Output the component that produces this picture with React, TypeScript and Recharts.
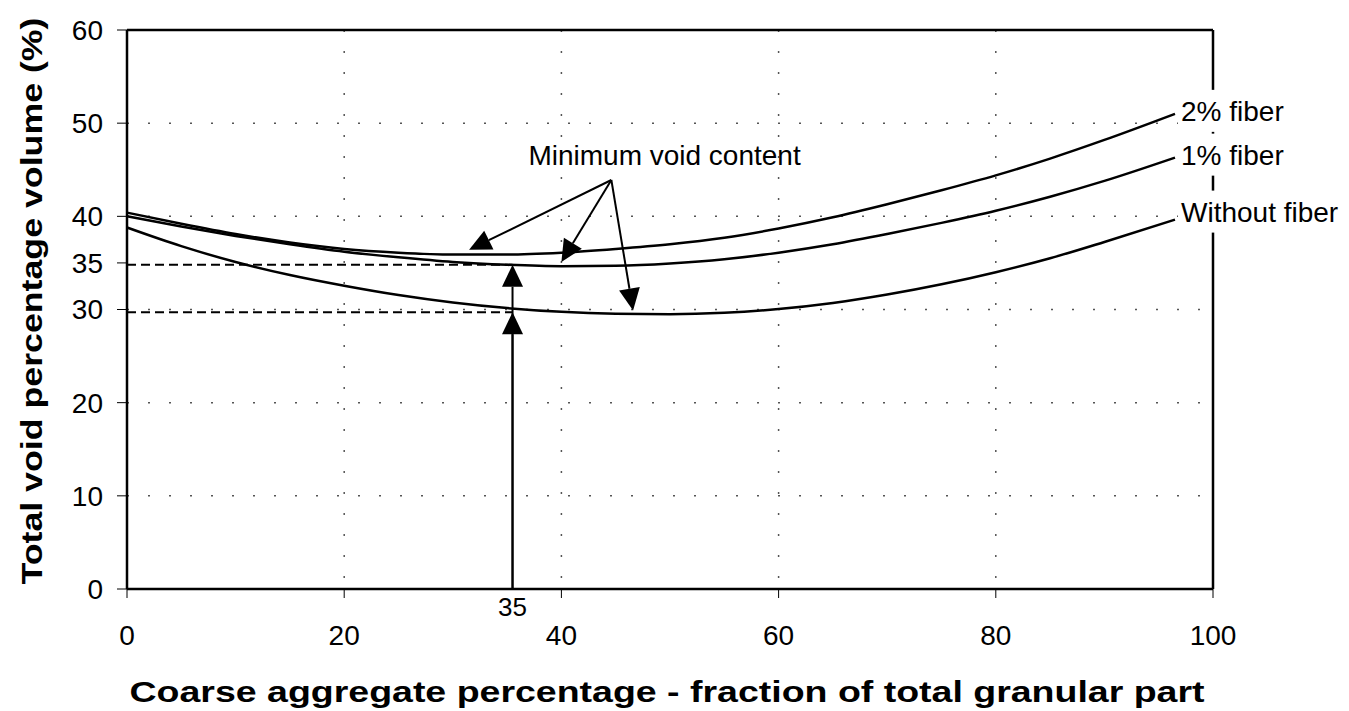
import React from 'react';
import { LineChart, Line, XAxis, YAxis, CartesianGrid, ReferenceLine, ReferenceDot } from 'recharts';

// coarse aggregate % (x) and total void % for each mix
const coarsePct = [0, 5, 10, 15, 20, 25, 30, 35, 40, 45, 50, 55, 60, 65, 70, 75, 80, 85, 90, 96.5];
const fiber2 = [40.4, 39.2, 38.1, 37.2, 36.5, 36.1, 35.9, 35.9, 36.1, 36.5, 37.0, 37.7, 38.7, 39.9, 41.3, 42.8, 44.4, 46.2, 48.2, 51.0];
const fiber1 = [40.0, 38.9, 37.9, 37.0, 36.2, 35.6, 35.1, 34.8, 34.65, 34.7, 34.95, 35.4, 36.1, 37.0, 38.1, 39.3, 40.6, 42.1, 43.8, 46.3];
const noFiber = [38.8, 36.8, 35.1, 33.7, 32.55, 31.55, 30.75, 30.15, 29.75, 29.55, 29.5, 29.65, 30.05, 30.7, 31.6, 32.7, 34.0, 35.5, 37.25, 39.65];
const seriesNames = ['2% fiber', '1% fiber', 'Without fiber'];

const xTicks = [0, 20, 40, 60, 80, 100];
const yTicks = [0, 10, 20, 30, 35, 40, 50, 60];
const gridX = [20, 40, 60, 80];
const gridY = [10, 20, 30, 40, 50];

// annotation: optimum coarse fraction and the two minimum levels
const optimumX = 35.5;
const optimumLabel = '35';
const minLevels = [34.8, 29.7];
const noteText = 'Minimum void content';
const noteAt = { x: 49.5, y: 46.6 };
const noteOrigin = { x: 44.6, y: 43.9 };
const noteTips = [
  { x: 31.5, y: 36.4 },
  { x: 40.0, y: 35.1 },
  { x: 46.6, y: 29.9 },
];

const FONT = '"Liberation Sans", Arial, Helvetica, sans-serif';

const rows = coarsePct.map((x, i) => ({ x, f2: fiber2[i], f1: fiber1[i], f0: noFiber[i] }));

const arrowShape = (p: any) => {
  const { x1, y1, x2, y2 } = p;
  const a = Math.atan2(y2 - y1, x2 - x1);
  const L = 22;
  const W = 10.5;
  const bx = x2 - L * Math.cos(a);
  const by = y2 - L * Math.sin(a);
  const nx = -Math.sin(a);
  const ny = Math.cos(a);
  const pts = `${x2},${y2} ${bx + W * nx},${by + W * ny} ${bx - W * nx},${by - W * ny}`;
  return (
    <g>
      <line x1={x1} y1={y1} x2={bx} y2={by} stroke="#000" strokeWidth={2} />
      <polygon points={pts} fill="#000" />
    </g>
  );
};

const textLabel = (text: string, size: number, dx: number, dy: number, anchor: string, whiteBg = false) => (p: any) => {
  const vb = p.viewBox || {};
  const cx = (vb.x ?? 0) + (vb.width ?? 0) / 2 + dx;
  const cy = (vb.y ?? 0) + (vb.height ?? 0) / 2 + dy;
  return (
    <g>
      {whiteBg && <rect x={cx - 3} y={cy - 31} width={165} height={42} fill="#fff" />}
      <text x={cx} y={cy} textAnchor={anchor} fontFamily={FONT} fontSize={size} fill="#000">
        {text}
      </text>
    </g>
  );
};

const XTitle = (p: any) => {
  const vb = p.viewBox;
  return (
    <text x={vb.x + vb.width / 2 - 3} y={vb.y + 113} textAnchor="middle" fontFamily={FONT} fontSize={29}
      fontWeight="bold" textLength={1075} lengthAdjust="spacingAndGlyphs" fill="#000">
      Coarse aggregate percentage - fraction of total granular part
    </text>
  );
};

const YTitle = (p: any) => {
  const vb = p.viewBox;
  const x = vb.x - 15;
  const y = vb.y + 271;
  return (
    <text x={x} y={y} transform={`rotate(-90, ${x}, ${y})`} textAnchor="middle" fontFamily={FONT} fontSize={29}
      fontWeight="bold" textLength={567} lengthAdjust="spacingAndGlyphs" fill="#000">
      Total void percentage volume (%)
    </text>
  );
};

const last = coarsePct.length - 1;
const ends = [fiber2[last], fiber1[last], noFiber[last]];

export default function App() {
  return (
    <div style={{ width: 1341, height: 703 }}>
      <LineChart width={1341} height={703} data={rows} margin={{ top: 22, right: 136, bottom: 62, left: 49 }}>
        <CartesianGrid horizontalValues={gridY} verticalValues={gridX} stroke="#555" strokeDasharray="2 19" strokeWidth={1.5} />
        <XAxis dataKey="x" type="number" domain={[0, 100]} ticks={xTicks} interval={0} height={60}
          tickSize={9} tickMargin={27} tick={{ fontSize: 28, fill: '#000', fontFamily: FONT }}
          axisLine={{ stroke: '#000', strokeWidth: 2.5 }} tickLine={{ stroke: '#000' }} label={{ content: XTitle }} />
        <YAxis type="number" domain={[0, 60]} ticks={yTicks} interval={0} width={70}
          tickSize={10} tickMargin={14} tick={{ fontSize: 28, fill: '#000', fontFamily: FONT }}
          axisLine={{ stroke: '#000', strokeWidth: 2.5 }} tickLine={{ stroke: '#000' }} label={{ content: YTitle }} />
        <ReferenceLine y={60} stroke="#000" strokeWidth={2.5} />
        <ReferenceLine x={100} stroke="#000" strokeWidth={2.5} />
        {minLevels.map((v) => (
          <ReferenceLine key={`lvl-${v}`} segment={[{ x: 0, y: v }, { x: optimumX, y: v }]} stroke="#000"
            strokeWidth={2} strokeDasharray="9 5" />
        ))}
        {minLevels.map((v) => (
          <ReferenceLine key={`up-${v}`} segment={[{ x: optimumX, y: 0 }, { x: optimumX, y: v }]} shape={arrowShape} />
        ))}
        {noteTips.map((t, i) => (
          <ReferenceLine key={`note-${i}`} segment={[noteOrigin, t]} shape={arrowShape} />
        ))}
        <Line type="monotone" dataKey="f2" name={seriesNames[0]} stroke="#000" strokeWidth={2.5} dot={false} isAnimationActive={false} />
        <Line type="monotone" dataKey="f1" name={seriesNames[1]} stroke="#000" strokeWidth={2.5} dot={false} isAnimationActive={false} />
        <Line type="monotone" dataKey="f0" name={seriesNames[2]} stroke="#000" strokeWidth={2.5} dot={false} isAnimationActive={false} />
        {seriesNames.map((n, i) => (
          <ReferenceDot key={n} x={coarsePct[last]} y={ends[i]} r={0} fill="none" stroke="none"
            label={{ content: textLabel(n, 28, 6, 7 - (i === 2 ? 5 : 0), 'start', true) }} />
        ))}
        <ReferenceDot x={noteAt.x} y={noteAt.y} r={0} fill="none" stroke="none"
          label={{ content: textLabel(noteText, 28, 0, 10, 'middle') }} />
        <ReferenceDot x={optimumX} y={0} r={0} fill="none" stroke="none"
          label={{ content: textLabel(optimumLabel, 26, 0, 27, 'middle') }} />
      </LineChart>
    </div>
  );
}
